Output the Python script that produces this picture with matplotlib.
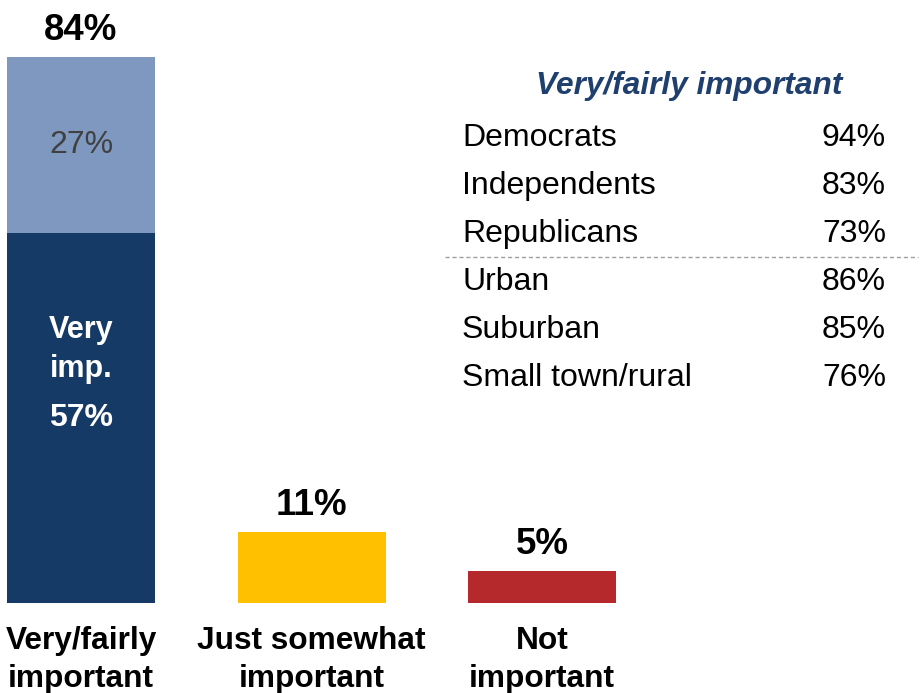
import matplotlib.pyplot as plt

plt.rcParams['font.family'] = ['Liberation Sans', 'DejaVu Sans']

categories = ['Very/fairly\nimportant', 'Just somewhat\nimportant', 'Not\nimportant']
very_imp = 57
fairly_imp = 27
other_values = [11, 5]          # just somewhat, not important
bar_colors = ['#FFC000', '#B5292C']

groups = ['Democrats', 'Independents', 'Republicans', 'Urban', 'Suburban', 'Small town/rural']
group_values = [94, 83, 73, 86, 85, 76]

W, H = 922, 693
fig = plt.figure(figsize=(W / 100, H / 100), dpi=100)

# axes laid out in pixels: baseline at y=603, 6.5 px per percentage point
ax = fig.add_axes([0, (H - 603) / H, 1, 585 / H])
ax.set_ylim(0, 90)
ax.set_xlim(-81 / 230.5, (W - 81) / 230.5)
ax.axis('off')

width = 148 / 230.5
dark, light = '#163A66', '#7F98C0'

ax.bar(0, very_imp, width=width, color=dark)
ax.bar(0, fairly_imp, width=width, bottom=very_imp, color=light)
ax.bar([1, 2], other_values, width=width, color=bar_colors)

totals = [very_imp + fairly_imp] + other_values
for i, v in enumerate(totals):
    ax.annotate(f'{v}%', (i, v), xytext=(0, 12), textcoords='offset points',
                ha='center', va='baseline', fontsize=26.5, fontweight='bold')

ax.text(0, very_imp + fairly_imp / 2, f'{fairly_imp}%', ha='center', va='center',
        fontsize=23, color='#404040')
ax.text(0, very_imp / 2, f'{very_imp}%', ha='center', va='center',
        fontsize=23, fontweight='bold', color='white')
ax.annotate('Very\nimp.', (0, very_imp / 2), xytext=(0, 24), textcoords='offset points',
            ha='center', va='bottom', fontsize=22, fontweight='bold', color='white',
            linespacing=1.42)

# category labels under the bars
for i, lab in enumerate(categories):
    ax.text(i, -3.5, lab, ha='center', va='top', fontsize=22.8, fontweight='bold',
            linespacing=1.36)

# subgroup table on the right
fig.text(689 / W, 1 - 86 / H, 'Very/fairly important', ha='center', va='center',
         fontsize=22.8, fontweight='bold', style='italic', color='#1F3F6E')
row_y = [138, 186, 234, 282, 330, 378]
for name, val, y in zip(groups, group_values, row_y):
    fig.text(462 / W, 1 - y / H, name, ha='left', va='center', fontsize=23)
    fig.text(886 / W, 1 - y / H, f'{val}%', ha='right', va='center', fontsize=23)

fig.add_artist(plt.Line2D([445 / W, 918 / W], [1 - 257 / H, 1 - 257 / H],
                          color='#A0A0A0', lw=1, ls=(0, (3, 2))))

fig.savefig('out.png', dpi=100)
